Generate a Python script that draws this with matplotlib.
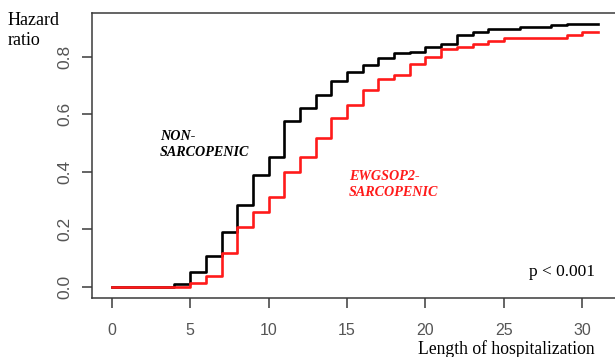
import matplotlib
matplotlib.use("Agg")
import matplotlib.pyplot as plt

# step curves (cumulative hazard by day)
non_sarco_days = [0, 4, 5, 6, 7, 8, 9, 10, 11, 12, 13, 14, 15, 16, 17, 18, 19, 20,
                  21, 22, 23, 24, 26, 28, 29, 31]
non_sarco_hr = [0.0, 0.010, 0.050, 0.108, 0.189, 0.286, 0.389, 0.453, 0.577, 0.621,
                0.667, 0.717, 0.748, 0.770, 0.796, 0.812, 0.815, 0.835, 0.843, 0.875,
                0.887, 0.896, 0.902, 0.909, 0.914, 0.914]

sarco_days = [0, 5, 6, 7, 8, 9, 10, 11, 12, 13, 14, 15, 16, 17, 18, 19, 20, 21, 22,
              23, 24, 25, 29, 30, 31]
sarco_hr = [0.0, 0.013, 0.038, 0.117, 0.209, 0.261, 0.314, 0.398, 0.453, 0.519, 0.586,
            0.632, 0.686, 0.722, 0.736, 0.775, 0.798, 0.826, 0.835, 0.846, 0.855,
            0.864, 0.876, 0.887, 0.887]

x_ticks = [0, 5, 10, 15, 20, 25, 30]
y_ticks = [0.0, 0.2, 0.4, 0.6, 0.8]
y_tick_labels = ["0.0", "0.2", "0.4", "0.6", "0.8"]

serif = "Liberation Serif"
sans = "Liberation Sans"
tick_grey = "#555555"
frame_grey = "#3a3a3a"

fig = plt.figure(figsize=(6.15, 3.57), dpi=100)
ax = fig.add_axes([0.150, 0.1644, 0.854, 0.7983])

ax.step(non_sarco_days, non_sarco_hr, where="post", color="black", lw=1.9)
ax.step(sarco_days, sarco_hr, where="post", color="#ff1a1a", lw=1.9)

ax.set_xlim(-1.24, 32.24)
ax.set_ylim(-0.040, 0.951)

ax.set_xticks(x_ticks)
ax.set_xticklabels([str(t) for t in x_ticks], fontfamily=sans, fontsize=11.5, color=tick_grey)
ax.set_yticks(y_ticks)
ax.set_yticklabels(y_tick_labels, fontfamily=sans, fontsize=12.5, color=tick_grey,
                   rotation=90, va="center")
ax.tick_params(axis="both", length=7, width=1.1, color=frame_grey)
ax.tick_params(axis="x", pad=11)
ax.tick_params(axis="y", pad=7)

for side in ax.spines.values():
    side.set_color(frame_grey)
    side.set_linewidth(1.1)

ax.text(3.08, 0.545, "NON-\nSARCOPENIC", fontfamily=serif, fontsize=10.2,
        fontweight="bold", fontstyle="italic", color="black", ha="left", va="top",
        linespacing=1.3)
ax.text(15.13, 0.405, "EWGSOP2-\nSARCOPENIC", fontfamily=serif, fontsize=10.2,
        fontweight="bold", fontstyle="italic", color="#ff1a1a", ha="left", va="top",
        linespacing=1.3)
ax.text(26.6, 0.05, "p < 0.001", fontfamily=serif, fontsize=12.5, color="black",
        ha="left", va="center")

fig.text(0.013, 0.965, "Hazard\nratio", fontfamily=serif, fontsize=13, ha="left",
         va="top", linespacing=1.2)
fig.text(0.68, 3 / 357, "Length of hospitalization", fontfamily=serif, fontsize=12.7,
         ha="left", va="baseline")

fig.savefig("out.png", dpi=100)
